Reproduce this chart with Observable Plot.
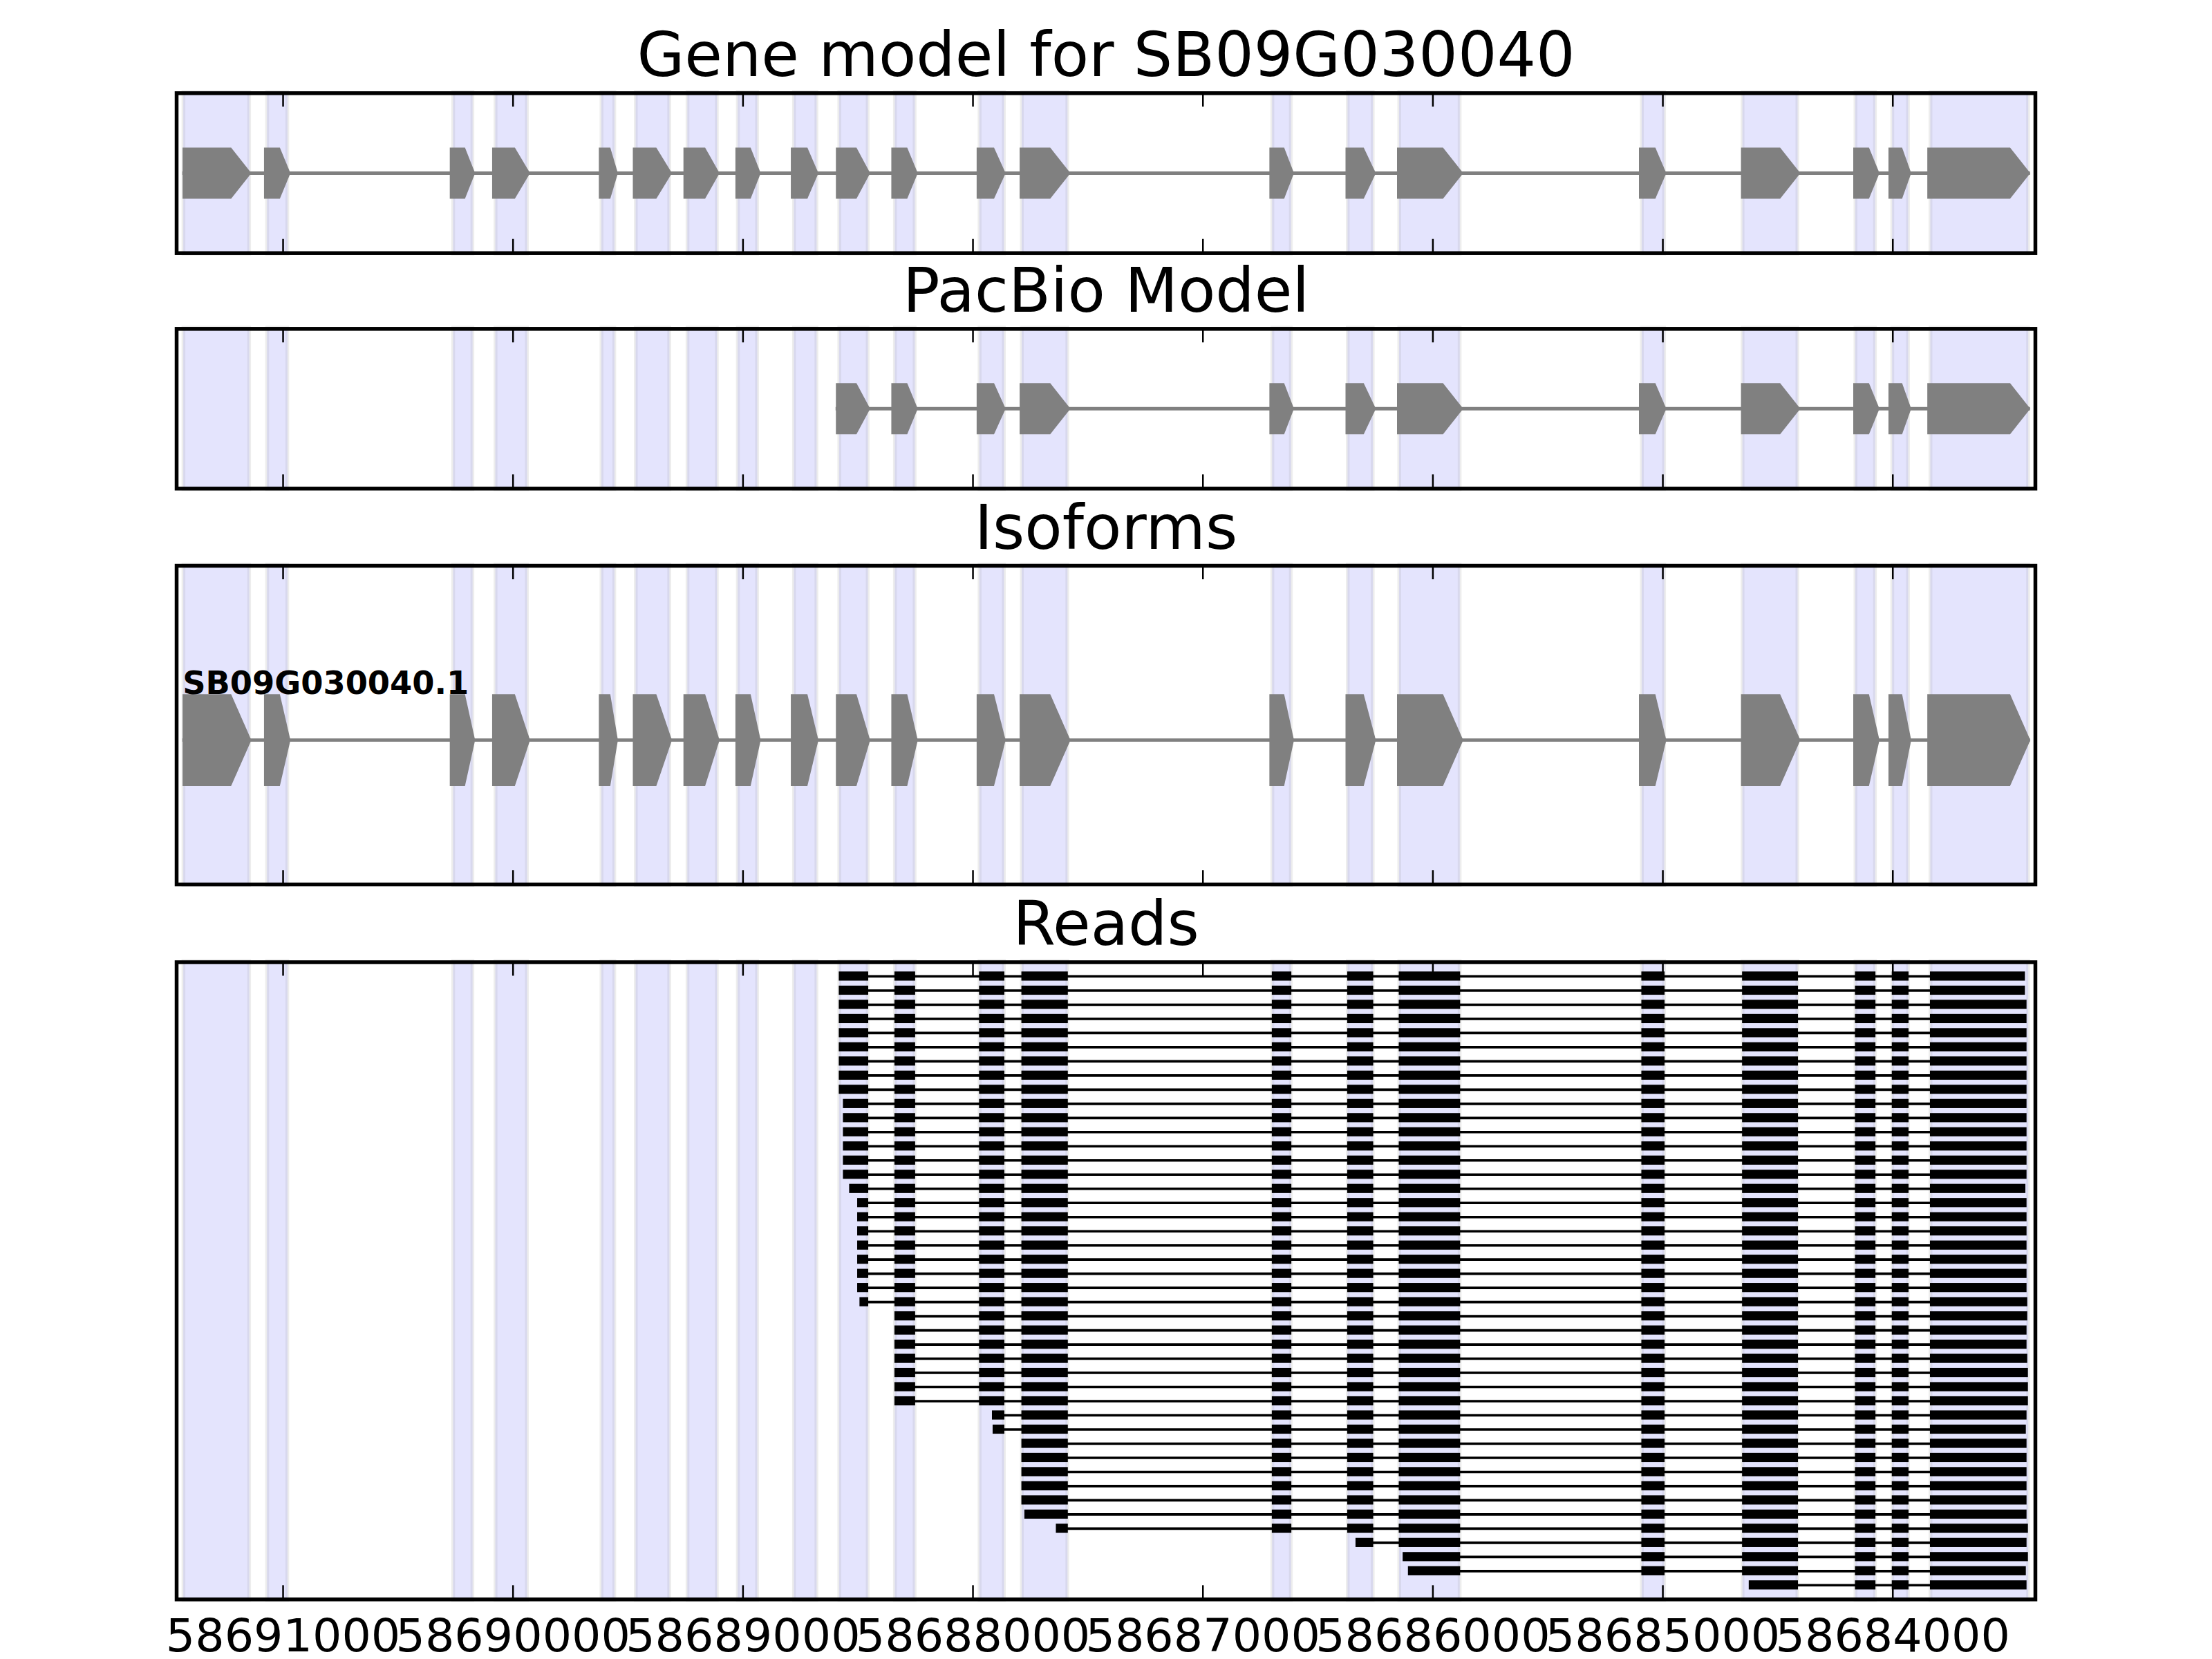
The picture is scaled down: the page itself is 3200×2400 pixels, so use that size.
<!DOCTYPE html>
<html>
<head>
<meta charset="utf-8">
<script src="https://cdn.jsdelivr.net/npm/d3@7"></script>
<script src="https://cdn.jsdelivr.net/npm/@observablehq/plot@0.6"></script>
<style>
  body { margin: 0; background: #fff; }
  #chart { position: relative; width: 3200px; height: 2400px; background: #fff; }
  #chart svg { position: absolute; left: 0; display: block; }
</style>
</head>
<body>
<div id="chart"></div>
<script>
// ---------------- data ----------------
const panelTitles = ["Gene model for SB09G030040", "PacBio Model", "Isoforms", "Reads"];
const isoformNames = ["SB09G030040.1"];
const tickValues = [58691000, 58690000, 58689000, 58688000, 58687000, 58686000, 58685000, 58684000];
const xDomain = [58691463, 58683380]; // reversed genomic axis (minus strand)

// Gene model exons (left edge, arrow tip), genomic coordinates
const geneExonStart = [58691437, 58691083, 58690275, 58690091, 58689627, 58689479, 58689259, 58689033, 58688792, 58688596, 58688355, 58687984, 58687797, 58686711, 58686380, 58686156, 58685104, 58684660, 58684172, 58684019, 58683850];
const geneExonEnd   = [58691138, 58690968, 58690165, 58689926, 58689544, 58689309, 58689102, 58688923, 58688672, 58688447, 58688240, 58687858, 58687576, 58686604, 58686248, 58685868, 58684985, 58684402, 58684058, 58683920, 58683402];

// PacBio model exons
const pacbioExonStart = [58688596, 58688355, 58687984, 58687797, 58686711, 58686380, 58686156, 58685104, 58684660, 58684172, 58684019, 58683850];
const pacbioExonEnd   = [58688447, 58688240, 58687858, 58687576, 58686604, 58686248, 58685868, 58684985, 58684402, 58684058, 58683920, 58683402];

// Highlighted exon regions (shaded bands)
const bandStart = [58691428, 58691064, 58690255, 58690071, 58689610, 58689461, 58689236, 58689017, 58688773, 58688576, 58688334, 58687966, 58687782, 58686693, 58686365, 58686141, 58685086, 58684648, 58684157, 58683997, 58683831];
const bandEnd   = [58691150, 58690984, 58690179, 58689942, 58689562, 58689323, 58689116, 58688941, 58688683, 58688460, 58688256, 58687868, 58687592, 58686620, 58686264, 58685886, 58684997, 58684417, 58684080, 58683936, 58683414];

// Reads: 5' start (left) and 3' end (right)
const readStart = [
  58688576, 58688576, 58688576, 58688576, 58688576, 58688576, 58688576, 58688576, 58688576,
  58688558, 58688558, 58688558, 58688558, 58688558, 58688558,
  58688531,
  58688496, 58688496, 58688496, 58688496, 58688496, 58688496, 58688496,
  58688486,
  58688334, 58688334, 58688334, 58688334, 58688334, 58688334, 58688334,
  58687910, 58687907,
  58687782, 58687782, 58687782, 58687782, 58687782,
  58687769, 58687632, 58686329, 58686124, 58686101, 58684619
];
const readEnd = [
  58683430, 58683430, 58683423, 58683423, 58683423, 58683423, 58683423, 58683423, 58683423,
  58683423, 58683423, 58683423, 58683423, 58683423, 58683423,
  58683428,
  58683423, 58683423, 58683423, 58683423, 58683423, 58683423, 58683423,
  58683420,
  58683420, 58683423, 58683423, 58683420, 58683417, 58683417, 58683417,
  58683423, 58683426,
  58683423, 58683423, 58683423, 58683423, 58683423,
  58683423, 58683417, 58683423, 58683417, 58683426, 58683423
];

// ---------------- helpers ----------------
const FONT = "DejaVu Sans";
const W = 3200, ML = 255, MR = 256;
const bands = bandStart.map((s, i) => ({s, e: bandEnd[i]}));

function arrowPoints(starts, ends, yc, hh) {
  const pts = [];
  starts.forEach((s, i) => {
    const e = ends[i];
    const t = Math.min(0.4 * (s - e), 88);
    pts.push({z: i, x: s, y: yc + hh}, {z: i, x: e + t, y: yc + hh}, {z: i, x: e, y: yc},
             {z: i, x: e + t, y: yc - hh}, {z: i, x: s, y: yc - hh});
  });
  return pts;
}

function panel({title, top, bottom, svgTop, svgBottom, yDomain, yReverse, marks, showAxis}) {
  const frameH = bottom - top;
  const lo = Math.min(...yDomain), hi = Math.max(...yDomain);
  const svg = Plot.plot({
    width: W,
    height: svgBottom - svgTop,
    marginTop: top - svgTop,
    marginBottom: svgBottom - bottom,
    marginLeft: ML,
    marginRight: MR,
    x: {domain: xDomain, axis: null},
    y: {domain: yDomain, reverse: !!yReverse, axis: null},
    style: {fontFamily: FONT, background: "transparent", color: "black", overflow: "visible"},
    marks: [
      Plot.rect(bands, {x1: "s", x2: "e", y1: () => lo, y2: () => hi, fill: "none", stroke: "#ededed", strokeWidth: 8}),
      Plot.rect(bands, {x1: "s", x2: "e", y1: () => lo, y2: () => hi, fill: "#e4e4fd", stroke: "#d8d8ed", strokeWidth: 3}),
      ...marks,
      Plot.ruleX(tickValues, {x: d => d, insetBottom: frameH - 20, stroke: "black", strokeWidth: 2.5}),
      Plot.ruleX(tickValues, {x: d => d, insetTop: frameH - 20, stroke: "black", strokeWidth: 2.5}),
      Plot.frame({stroke: "black", strokeWidth: 5.5}),
      Plot.text([title], {text: d => d, frameAnchor: "top", dy: -25, lineAnchor: "bottom", fontSize: 88.9, fill: "black", fontFamily: FONT}),
      showAxis ? Plot.axisX(tickValues, {tickSize: 0, tickPadding: 28, fontSize: 66.7, tickFormat: d => String(d), label: null, fill: "black", fontFamily: FONT}) : null
    ]
  });
  svg.style.top = svgTop + "px";
  return svg;
}

function geneMarks(starts, ends, yc, hh, lineW) {
  const span = [{x1: starts[0], x2: ends[ends.length - 1], y: yc}];
  return [
    Plot.ruleY(span, {x1: "x1", x2: "x2", y: "y", stroke: "#808080", strokeWidth: lineW}),
    Plot.line(arrowPoints(starts, ends, yc, hh), {x: "x", y: "y", z: "z", fill: "#808080", stroke: "none", curve: "linear-closed"})
  ];
}

// reads: exons are the bands intersected with each read's span
const readRows = readStart.map((s, i) => ({row: i, s, e: readEnd[i]}));
const readExons = [];
readRows.forEach(r => {
  bands.forEach(b => {
    const hiX = Math.min(b.s, r.s), loX = Math.max(b.e, r.e);
    if (hiX > loX) readExons.push({row: r.row, x1: hiX, x2: loX});
  });
});

const chart = document.getElementById("chart");

chart.append(panel({
  title: panelTitles[0], top: 134.3, bottom: 365.7, svgTop: 0, svgBottom: 420,
  yDomain: [0, 1], marks: geneMarks(geneExonStart, geneExonEnd, 0.5, 0.16, 5)
}));

chart.append(panel({
  title: panelTitles[1], top: 475.3, bottom: 706.3, svgTop: 420, svgBottom: 762,
  yDomain: [0, 1], marks: geneMarks(pacbioExonStart, pacbioExonEnd, 0.5, 0.16, 5)
}));

chart.append(panel({
  title: panelTitles[2], top: 818, bottom: 1279, svgTop: 762, svgBottom: 1335,
  yDomain: [0, 1],
  marks: [
    ...geneMarks(geneExonStart, geneExonEnd, 0.453, 0.144, 4.7),
    Plot.text(isoformNames, {text: d => d, x: () => geneExonStart[0], y: () => 0.453 + 0.144, textAnchor: "start",
      lineAnchor: "bottom", fontSize: 46.3, fontWeight: "bold", fill: "black", fontFamily: FONT})
  ]
}));

chart.append(panel({
  title: panelTitles[3], top: 1391.5, bottom: 2313.3, svgTop: 1335, svgBottom: 2400,
  yDomain: [-1, 44], yReverse: true, showAxis: true,
  marks: [
    Plot.ruleY(readRows, {x1: "s", x2: "e", y: "row", stroke: "black", strokeWidth: 3.6}),
    Plot.rect(readExons, {x1: "x1", x2: "x2", y1: d => d.row - 0.225, y2: d => d.row + 0.225, fill: "black", stroke: "black", strokeWidth: 4})
  ]
}));
</script>
</body>
</html>
